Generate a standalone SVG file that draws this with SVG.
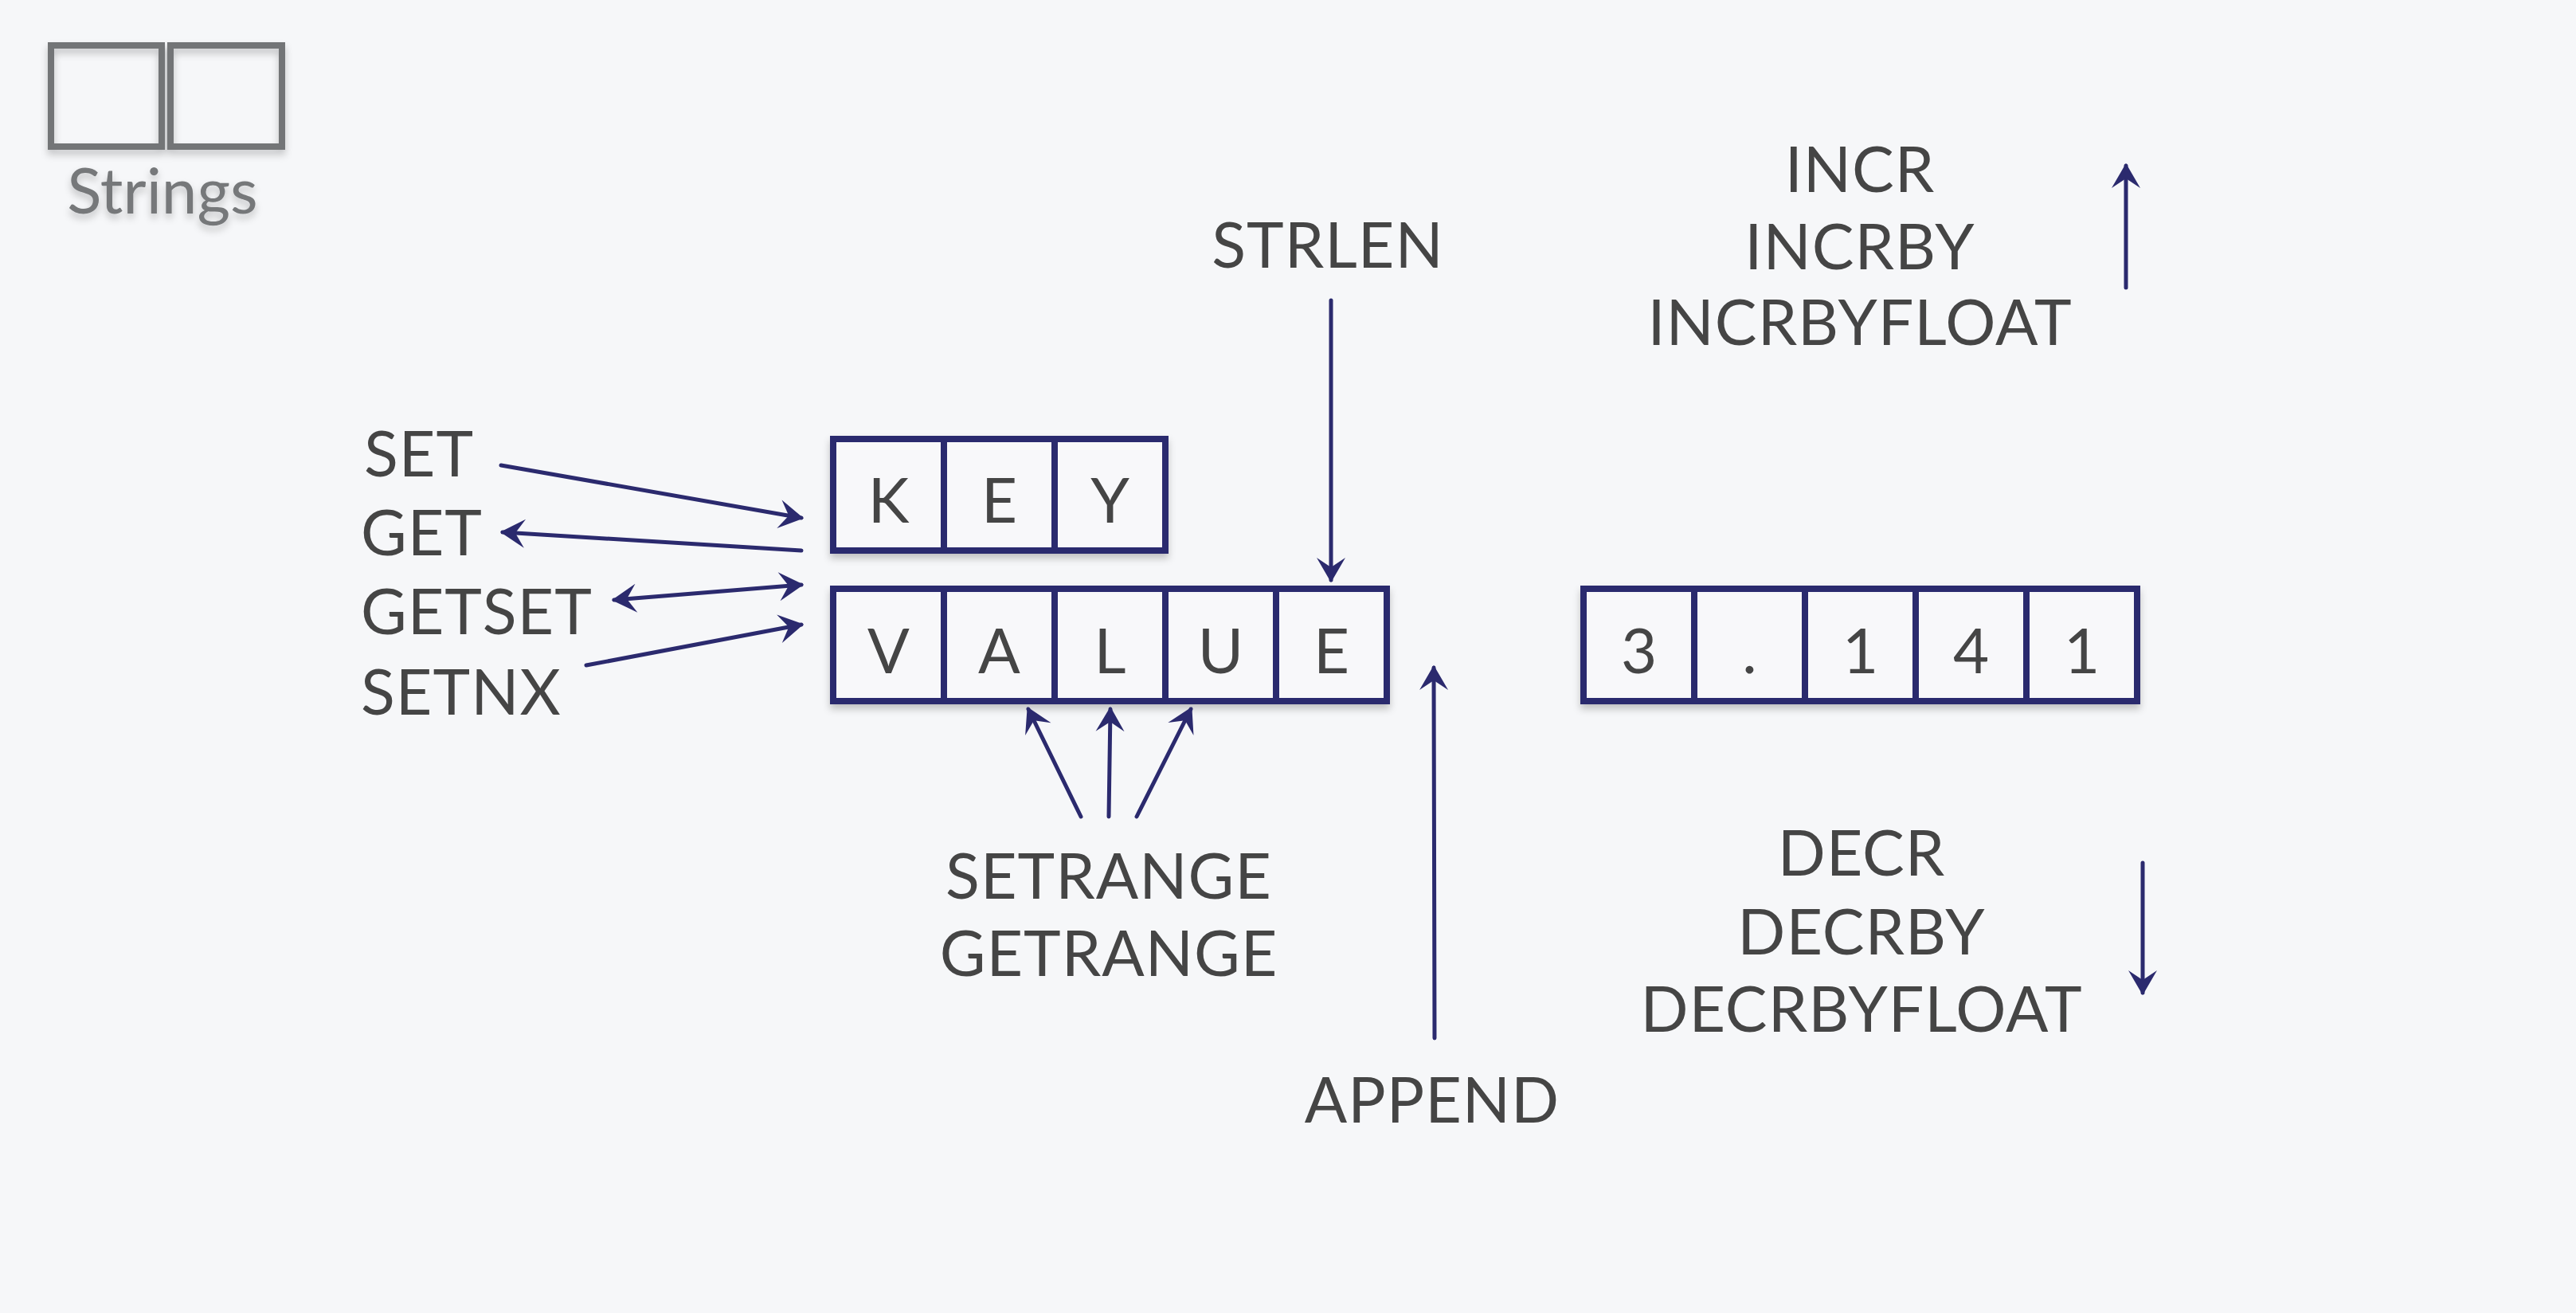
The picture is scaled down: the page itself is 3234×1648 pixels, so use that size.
<svg xmlns="http://www.w3.org/2000/svg" width="3234" height="1648" viewBox="0 0 3234 1648">
<defs>
<filter id="sh" x="-10%" y="-10%" width="120%" height="130%">
<feDropShadow dx="0" dy="6" stdDeviation="5" flood-color="#000" flood-opacity="0.22"/>
</filter>
<marker id="ah" viewBox="-32 -22 38 44" refX="0" refY="0" markerWidth="38" markerHeight="44" markerUnits="userSpaceOnUse" orient="auto-start-reverse">
<path d="M3,0 L-28,-18 L-16,0 L-28,18 Z" fill="#2b2a6e"/>
</marker>
<style>
.bg{fill:#f6f7f9}
.lbl{font-family:Lato,"Open Sans",sans-serif;font-size:79px;letter-spacing:1px;fill:#454545}
.mid{text-anchor:middle}
.cell{fill:none;stroke:#2b2a6e;stroke-width:8;stroke-linejoin:miter}
.div{stroke:#2b2a6e;stroke-width:8}
.ch{font-family:Lato,"Open Sans",sans-serif;font-size:78px;fill:#444;text-anchor:middle}
.con{fill:none;stroke:#2b2a6e;stroke-width:5;stroke-linecap:round}
.gray{fill:none;stroke:#737577;stroke-width:8}
.title{font-family:Lato,"Open Sans",sans-serif;font-size:80px;fill:#76787a;text-anchor:middle}
</style>
</defs>
<rect class="bg" x="0" y="0" width="3234" height="1648"/>

<g id="strings-icon" filter="url(#sh)">
<rect class="gray" x="64" y="57" width="139" height="127"/>
<rect class="gray" x="214" y="57" width="140" height="127"/>
<text class="title" x="204" y="268">Strings</text>
</g>

<g id="key" filter="url(#sh)">
<rect x="1046" y="551" width="417" height="140" fill="#f8f8fa"/>
<rect class="cell" x="1046" y="551" width="417" height="140"/>
<line class="div" x1="1185" y1="551" x2="1185" y2="691"/>
<line class="div" x1="1324" y1="551" x2="1324" y2="691"/>
<text class="ch" x="1115.5" y="656">K</text>
<text class="ch" x="1254.5" y="656">E</text>
<text class="ch" x="1393.5" y="656">Y</text>
</g>

<g id="value" filter="url(#sh)">
<rect x="1046" y="739" width="695" height="141" fill="#f8f8fa"/>
<rect class="cell" x="1046" y="739" width="695" height="141"/>
<line class="div" x1="1185" y1="739" x2="1185" y2="880"/>
<line class="div" x1="1324" y1="739" x2="1324" y2="880"/>
<line class="div" x1="1463" y1="739" x2="1463" y2="880"/>
<line class="div" x1="1602" y1="739" x2="1602" y2="880"/>
<text class="ch" x="1115.5" y="845">V</text>
<text class="ch" x="1254.5" y="845">A</text>
<text class="ch" x="1393.5" y="845">L</text>
<text class="ch" x="1532.5" y="845">U</text>
<text class="ch" x="1671.5" y="845">E</text>
</g>

<g id="number" filter="url(#sh)">
<rect x="1988" y="739" width="695" height="141" fill="#f8f8fa"/>
<rect class="cell" x="1988" y="739" width="695" height="141"/>
<line class="div" x1="2127" y1="739" x2="2127" y2="880"/>
<line class="div" x1="2266" y1="739" x2="2266" y2="880"/>
<line class="div" x1="2405" y1="739" x2="2405" y2="880"/>
<line class="div" x1="2544" y1="739" x2="2544" y2="880"/>
<text class="ch" x="2057.5" y="845">3</text>
<text class="ch" x="2196.5" y="845">.</text>
<text class="ch" x="2335.5" y="845">1</text>
<text class="ch" x="2474.5" y="845">4</text>
<text class="ch" x="2613.5" y="845">1</text>
</g>

<g id="label-set"><text class="lbl" x="457" y="598">SET</text></g>
<g id="label-get"><text class="lbl" x="453" y="697">GET</text></g>
<g id="label-getset"><text class="lbl" x="453" y="796">GETSET</text></g>
<g id="label-setnx"><text class="lbl" x="453" y="897">SETNX</text></g>
<g id="label-strlen"><text class="lbl mid" x="1667" y="336">STRLEN</text></g>
<g id="label-append"><text class="lbl mid" x="1798" y="1409">APPEND</text></g>
<g id="label-range">
<text class="lbl mid" x="1392" y="1128">SETRANGE</text>
<text class="lbl mid" x="1392" y="1225">GETRANGE</text>
</g>
<g id="label-incr">
<text class="lbl mid" x="2335" y="241">INCR</text>
<text class="lbl mid" x="2335" y="338">INCRBY</text>
<text class="lbl mid" x="2335" y="433">INCRBYFLOAT</text>
</g>
<g id="label-decr">
<text class="lbl mid" x="2337" y="1099">DECR</text>
<text class="lbl mid" x="2337" y="1198">DECRBY</text>
<text class="lbl mid" x="2337" y="1295">DECRBYFLOAT</text>
</g>

<g id="connectors">
<path class="con" d="M629,584 L1006,650" marker-end="url(#ah)"/>
<path class="con" d="M1006,691 L631,668" marker-end="url(#ah)"/>
<path class="con" d="M771,753 L1006,734" marker-start="url(#ah)" marker-end="url(#ah)"/>
<path class="con" d="M736,835 L1006,784" marker-end="url(#ah)"/>
<path class="con" d="M1671,377 L1671,728" marker-end="url(#ah)"/>
<path class="con" d="M1801,1303 L1800,838" marker-end="url(#ah)"/>
<path class="con" d="M1357,1025 L1291,890" marker-end="url(#ah)"/>
<path class="con" d="M1392,1025 L1394,890" marker-end="url(#ah)"/>
<path class="con" d="M1427,1025 L1495,890" marker-end="url(#ah)"/>
<path class="con" d="M2669,361 L2669,208" marker-end="url(#ah)"/>
<path class="con" d="M2690,1083 L2690,1246" marker-end="url(#ah)"/>
</g>
</svg>
